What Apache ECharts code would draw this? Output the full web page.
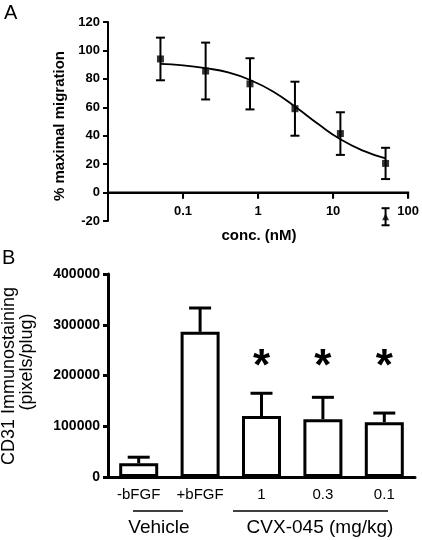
<!DOCTYPE html>
<html>
<head>
<meta charset="utf-8">
<script src="https://cdn.jsdelivr.net/npm/echarts@6/dist/echarts.min.js"></script>
<style>
html,body{margin:0;padding:0;background:#fff;}
#c{width:422px;height:540px;}
</style>
</head>
<body>
<div id="c"></div>
<script>
// ---- Panel A data ----
const concA = [0.05, 0.2, 0.78, 3.1, 12.5, 50];
const meanA = [94, 85.5, 76.5, 59, 41.5, 20.5];
const errA = [15, 20, 18, 19, 15, 11];
const ctrlX = [50];
const ctrlY = [-17];
const ctrlErr = [6];
const curveX = [0.05, 0.1, 0.2, 0.4, 0.8, 1.6, 3.2, 6.4, 12.5, 25, 50];
const curveY = [90.5, 89.5, 87.5, 84.5, 79, 71, 60, 48, 37.5, 29.5, 24];
const xTicksA = [0.01, 0.1, 1, 10, 100];

// ---- Panel B data ----
const catsB = ['-bFGF', '+bFGF', '1', '0.3', '0.1'];
const meanB = [27000, 286000, 120000, 114000, 108000];
const errB = [12000, 47000, 45000, 43000, 18000];
const sigB = ['', '', '*', '*', '*'];

const FONT = '"Liberation Sans", Arial, sans-serif';
const ASTERISK_LEVEL = 216000;
const GRID_A_LEFT = 108, GRID_A_RIGHT = 411, GRID_A_TOP = 22, GRID_A_BOTTOM = 221;
const X_AXIS_A_OFFSET = -(GRID_A_BOTTOM - GRID_A_TOP) * 20 / 140;

const chart = echarts.init(document.getElementById('c'), null, {renderer: 'canvas'});

function errBarA(capHalf, lw) {
  return function (params, api) {
    const x = api.value(0), m = api.value(1), e = api.value(2);
    const top = api.coord([x, m + e]);
    const bot = api.coord([x, m - e]);
    const st = {stroke: '#000', lineWidth: lw};
    return {type: 'group', children: [
      {type: 'line', shape: {x1: top[0], y1: top[1], x2: bot[0], y2: bot[1]}, style: st},
      {type: 'line', shape: {x1: top[0] - capHalf, y1: top[1], x2: top[0] + capHalf, y2: top[1]}, style: st},
      {type: 'line', shape: {x1: bot[0] - capHalf, y1: bot[1], x2: bot[0] + capHalf, y2: bot[1]}, style: st}
    ]};
  };
}

const option = {
  animation: false,
  backgroundColor: '#fff',
  grid: [
    {left: GRID_A_LEFT, right: 422 - GRID_A_RIGHT, top: GRID_A_TOP, bottom: 540 - GRID_A_BOTTOM},
    {left: 108, right: 7, top: 274, bottom: 63}
  ],
  xAxis: [
    {
      type: 'log', gridIndex: 0, min: 0.01, max: 100,
      offset: X_AXIS_A_OFFSET,
      axisLine: {show: true, onZero: false, lineStyle: {color: '#000', width: 2}},
      axisTick: {show: true, length: 6, lineStyle: {color: '#000', width: 2}},
      axisLabel: {color: '#000', fontFamily: FONT, fontWeight: 'bold', fontSize: 13, margin: 12,
        formatter: function (v) { return v <= 0.011 ? '' : String(+(+v).toPrecision(3)); }},
      splitLine: {show: false}
    },
    {
      type: 'category', gridIndex: 1, data: catsB,
      axisLine: {lineStyle: {color: '#000', width: 3}},
      axisTick: {alignWithLabel: true, length: 6, lineStyle: {color: '#000', width: 3}},
      axisLabel: {color: '#000', fontFamily: FONT, fontSize: 15, margin: 10}
    }
  ],
  yAxis: [
    {
      type: 'value', gridIndex: 0, min: -20, max: 120, interval: 20,
      axisLine: {show: true, onZero: false, lineStyle: {color: '#000', width: 2}},
      axisTick: {show: true, length: 5, lineStyle: {color: '#000', width: 2}},
      axisLabel: {color: '#000', fontFamily: FONT, fontWeight: 'bold', fontSize: 13, margin: 8},
      splitLine: {show: false}
    },
    {
      type: 'value', gridIndex: 1, min: 0, max: 400000, interval: 100000,
      axisLine: {show: true, onZero: false, lineStyle: {color: '#000', width: 3}},
      axisTick: {show: true, length: 5, lineStyle: {color: '#000', width: 3}},
      axisLabel: {color: '#000', fontFamily: FONT, fontWeight: 'bold', fontSize: 14, margin: 8,
        formatter: function (v) { return String(v); }},
      splitLine: {show: false}
    }
  ],
  series: [
    {
      type: 'line', xAxisIndex: 0, yAxisIndex: 0, smooth: 0.5, symbol: 'none',
      lineStyle: {color: '#000', width: 1.8},
      data: curveX.map((x, i) => [x, curveY[i]]), z: 2
    },
    {
      type: 'custom', xAxisIndex: 0, yAxisIndex: 0,
      renderItem: errBarA(4.5, 2),
      data: concA.map((x, i) => [x, meanA[i], errA[i]]), z: 3
    },
    {
      type: 'scatter', xAxisIndex: 0, yAxisIndex: 0, symbol: 'rect', symbolSize: 7,
      itemStyle: {color: '#000'},
      data: concA.map((x, i) => [x, meanA[i]]), z: 4
    },
    {
      type: 'custom', xAxisIndex: 0, yAxisIndex: 0,
      renderItem: errBarA(4, 2),
      data: ctrlX.map((x, i) => [x, ctrlY[i], ctrlErr[i]]), z: 3
    },
    {
      type: 'scatter', xAxisIndex: 0, yAxisIndex: 0, symbol: 'triangle', symbolSize: 7,
      itemStyle: {color: '#000'},
      data: ctrlX.map((x, i) => [x, ctrlY[i]]), z: 4
    },
    {
      type: 'bar', xAxisIndex: 1, yAxisIndex: 1, barWidth: 39,
      itemStyle: {color: '#fff', borderColor: '#000', borderWidth: 3},
      data: meanB, z: 2
    },
    {
      type: 'custom', xAxisIndex: 1, yAxisIndex: 1,
      renderItem: function (params, api) {
        const c = api.value(0), m = api.value(1), e = api.value(2);
        const base = api.coord([c, m]);
        const top = api.coord([c, m + e]);
        const st = {stroke: '#000', lineWidth: 3};
        return {type: 'group', children: [
          {type: 'line', shape: {x1: base[0], y1: base[1], x2: top[0], y2: top[1]}, style: st},
          {type: 'line', shape: {x1: top[0] - 11, y1: top[1], x2: top[0] + 11, y2: top[1]}, style: st}
        ]};
      },
      data: catsB.map((c, i) => [i, meanB[i], errB[i]]), z: 3
    },
    {
      type: 'custom', xAxisIndex: 1, yAxisIndex: 1,
      renderItem: function (params, api) {
        const i = api.value(0);
        const p = api.coord([i, ASTERISK_LEVEL]);
        return {type: 'text', x: p[0], y: p[1],
          style: {text: sigB[params.dataIndex], fill: '#000', font: 'bold 44px ' + FONT,
            textAlign: 'center', textVerticalAlign: 'middle'}};
      },
      data: catsB.map((c, i) => [i]), z: 5
    }
  ]
};
chart.setOption(option);

// x axis of panel A at the y = 0 level (drawn again as graphic in case the axis line is not shown)
function pixA(v) {
  let p = null;
  try { p = chart.convertToPixel({gridIndex: 0}, [v, 0]); } catch (e) { p = null; }
  if (!p || !isFinite(p[0]) || !isFinite(p[1])) {
    const lo = Math.log10(xTicksA[0]), hi = Math.log10(xTicksA[xTicksA.length - 1]);
    p = [GRID_A_LEFT + (GRID_A_RIGHT - GRID_A_LEFT) * (Math.log10(v) - lo) / (hi - lo),
         GRID_A_BOTTOM - (GRID_A_BOTTOM - GRID_A_TOP) * 20 / 140];
  }
  return p;
}
const axisA = [];
const pA0 = pixA(xTicksA[0]);
const pA1 = pixA(xTicksA[xTicksA.length - 1]);
axisA.push({type: 'rect', z: 100, shape: {x: pA0[0], y: pA0[1] - 1, width: pA1[0] - pA0[0] + 1, height: 2},
  style: {fill: '#000'}});
xTicksA.slice(1).forEach(function (v) {
  const p = pixA(v);
  axisA.push({type: 'rect', z: 100, shape: {x: p[0] - 1, y: p[1], width: 2, height: 6}, style: {fill: '#000'}});
});

chart.setOption({
  graphic: [
    {type: 'text', left: 4, top: 3, style: {text: 'A', fill: '#000', font: '20px ' + FONT}},
    {type: 'text', left: 2, top: 248, style: {text: 'B', fill: '#000', font: '20px ' + FONT}},
    {type: 'text', x: 60, y: 126, rotation: Math.PI / 2,
      style: {text: '% maximal migration', fill: '#000', font: 'bold 15px ' + FONT, textAlign: 'center', textVerticalAlign: 'middle'}},
    {type: 'text', x: 259, y: 236,
      style: {text: 'conc. (nM)', fill: '#000', font: 'bold 15px ' + FONT, textAlign: 'center', textVerticalAlign: 'middle'}},
    {type: 'text', x: 9, y: 376, rotation: Math.PI / 2,
      style: {text: 'CD31 Immunostaining', fill: '#000', font: '18px ' + FONT, textAlign: 'center', textVerticalAlign: 'middle'}},
    {type: 'text', x: 27, y: 362, rotation: Math.PI / 2,
      style: {text: '(pixels/plug)', fill: '#000', font: '18px ' + FONT, textAlign: 'center', textVerticalAlign: 'middle'}},
    {type: 'line', shape: {x1: 133, y1: 511, x2: 183, y2: 511}, style: {stroke: '#000', lineWidth: 1.5}},
    {type: 'line', shape: {x1: 233, y1: 511, x2: 388, y2: 511}, style: {stroke: '#000', lineWidth: 1.5}},
    {type: 'text', x: 159, y: 528,
      style: {text: 'Vehicle', fill: '#000', font: '19px ' + FONT, textAlign: 'center', textVerticalAlign: 'middle'}},
    {type: 'text', x: 320, y: 528,
      style: {text: 'CVX-045 (mg/kg)', fill: '#000', font: '19px ' + FONT, textAlign: 'center', textVerticalAlign: 'middle'}}
  ].concat(axisA)
});
</script>
</body>
</html>
